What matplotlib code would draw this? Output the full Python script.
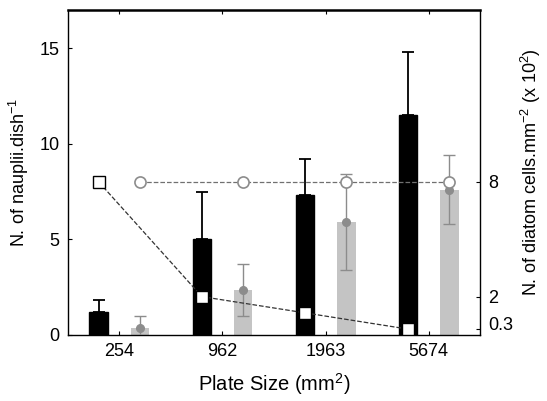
import numpy as np
import matplotlib
matplotlib.use('Agg')
import matplotlib.pyplot as plt
import matplotlib.transforms as mtransforms

plt.rcParams['font.family'] = ['Liberation Sans', 'DejaVu Sans']
plt.rcParams['mathtext.fontset'] = 'custom'
plt.rcParams['mathtext.rm'] = 'Liberation Sans'
plt.rcParams['mathtext.it'] = 'Liberation Sans'
plt.rcParams['mathtext.default'] = 'regular'

plate_sizes = ['254', '962', '1963', '5674']
nauplii = [1.2, 5.0, 7.3, 11.5]
nauplii_err = [0.6, 2.5, 1.9, 3.3]
diatom_final = [0.35, 2.35, 5.9, 7.6]
diatom_err = [0.65, 1.35, 2.5, 1.8]
diatom_initial = [8, 8, 8, 8]
eggs_ratio = [8, 2, 1.15, 0.3]

x = np.arange(1, len(plate_sizes) + 1)
off = 0.2
w = 0.18

fig = plt.figure(figsize=(5.47, 4.01), dpi=100)
ax = fig.add_axes([0.124, 0.165, 0.754, 0.81])

ax.bar(x - off, nauplii, width=w, color='black', edgecolor='black', lw=1, zorder=2)
ax.errorbar(x - off, nauplii, yerr=[np.zeros(4), nauplii_err], fmt='none',
            ecolor='black', elinewidth=1.3, capsize=4, capthick=1.3, zorder=3)

ax.bar(x + off, diatom_final, width=w, color='#c4c4c4', zorder=2)
ax.errorbar(x + off, diatom_final, yerr=diatom_err, fmt='o', color='#8c8c8c',
            ms=5.5, elinewidth=1, capsize=4, capthick=1, zorder=3)

ax.plot(x + off, diatom_initial, '--', color='#707070', lw=0.9, zorder=4)
ax.plot(x + off, diatom_initial, 'o', mfc='white', mec='#8c8c8c', ms=8,
        mew=1.2, zorder=5)
ax.plot(x - off, eggs_ratio, '--', color='#333333', lw=0.9, zorder=4)
ax.plot(x - off, eggs_ratio, 's', mfc='white', mec='black', ms=8,
        mew=1.0, zorder=5)

ax.set_xlim(0.5, 4.5)
ax.set_ylim(0, 17)
ax.set_xticks(x)
ax.set_xticklabels(plate_sizes)
ax.set_yticks([0, 5, 10, 15])
ax.tick_params(direction='in', labelsize=13, length=3, top=True, pad=6)
ax.set_xlabel('Plate Size (mm$^2$)', fontsize=14.5, labelpad=8)
ax.set_ylabel('N. of nauplii.dish$^{-1}$', fontsize=13, labelpad=6)
for s in ax.spines.values():
    s.set_linewidth(1.0)
ax.spines['top'].set_linewidth(1.8)

ax2 = ax.twinx()
ax2.set_ylim(ax.get_ylim())
ax2.set_yticks([0.3, 2, 8])
ax2.set_yticklabels(['0.3', '2', '8'])
ax2.tick_params(direction='in', labelsize=13, length=3, pad=6)
ax2.set_ylabel('N. of diatom cells.mm$^{-2}$ (x 10$^2$)', fontsize=13,
               labelpad=4)
for s in ax2.spines.values():
    s.set_visible(False)
# lift the 0.3 label a little so it clears the axis corner
lab = ax2.get_yticklabels()[0]
lab.set_transform(lab.get_transform() +
                  mtransforms.ScaledTranslation(0, 4 / 72, fig.dpi_scale_trans))

plt.savefig('out.png', dpi=100)
